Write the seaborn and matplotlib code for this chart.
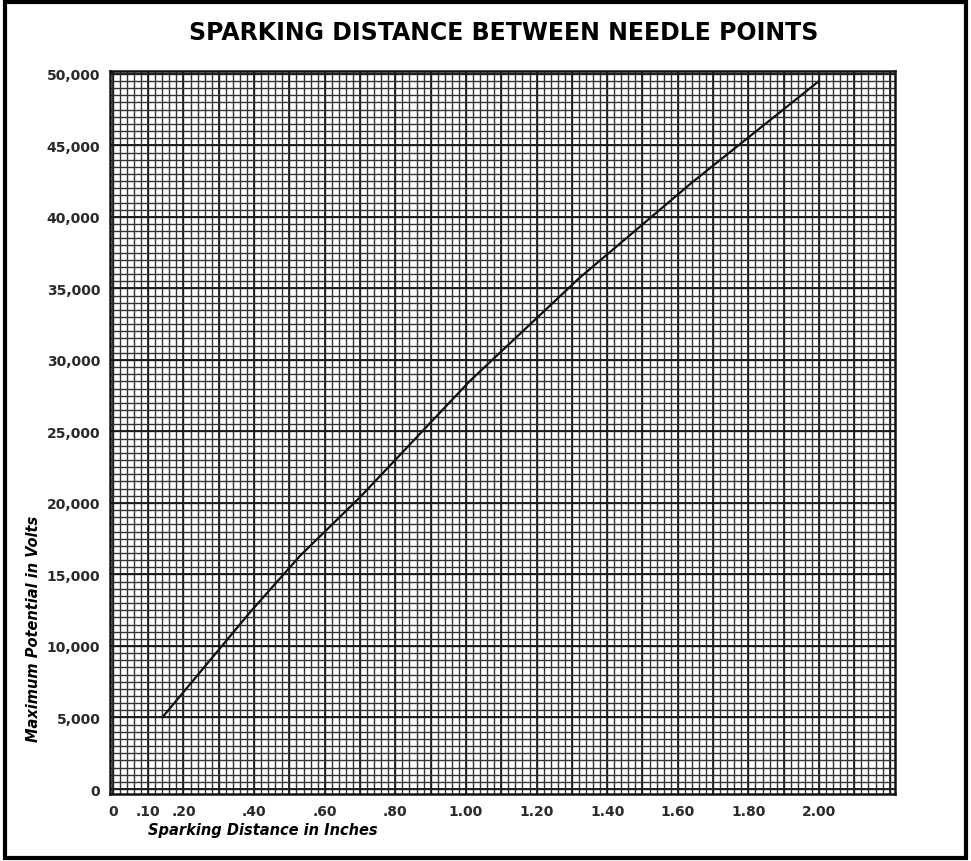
import numpy as np
import pandas as pd
import matplotlib
matplotlib.use("Agg")
import matplotlib.pyplot as plt
import seaborn as sns
from matplotlib.patches import Rectangle

# valores
distancia = [0.14, 0.39, 0.53, 0.70, 1.01, 1.32, 1.64, 2.00]
voltios = [5000, 12400, 16300, 20400, 28500, 35700, 42400, 49500]

x_ticks = [0, 0.10, 0.20, 0.40, 0.60, 0.80, 1.00, 1.20, 1.40, 1.60, 1.80, 2.00]
x_labels = ["0", ".10", ".20", ".40", ".60", ".80", "1.00", "1.20", "1.40", "1.60", "1.80", "2.00"]
y_ticks = list(range(0, 50001, 5000))
y_labels = ["0"] + [f"{v:,}" for v in y_ticks[1:]]

sns.set_style("white")
plt.rcParams['font.family'] = ['DejaVu Sans']

df = pd.DataFrame({"dist": distancia, "volts": voltios})

fig = plt.figure(figsize=(9.71, 8.62), dpi=100)
ax = fig.add_axes([0.1133, 0.0777, 0.8084, 0.8388])

# papel milimetrado
for xv in np.arange(0, 2.22, 0.02):
    ax.axvline(xv, color="#333333", lw=1.0, zorder=1)
for xv in np.arange(0, 2.22, 0.1):
    ax.axvline(xv, color="#1a1a1a", lw=1.25, zorder=1)
for yv in np.arange(0, 50001, 500):
    ax.axhline(yv, color="#333333", lw=1.0, zorder=1)
for yv in np.arange(0, 50001, 5000):
    ax.axhline(yv, color="#1a1a1a", lw=1.35, zorder=1)

sns.lineplot(data=df, x="dist", y="volts", ax=ax, color="#111111", lw=1.6, zorder=3)

ax.set_xlim(-0.008, 2.215)
ax.set_ylim(-350, 50200)
ax.set_xticks(x_ticks)
ax.set_xticklabels(x_labels)
ax.set_yticks(y_ticks)
ax.set_yticklabels(y_labels)
ax.tick_params(length=0, labelsize=10, pad=7, colors="#2a2a2a")
for lab in ax.get_xticklabels() + ax.get_yticklabels():
    lab.set_fontweight("bold")
ax.set_xlabel("")
ax.set_ylabel("")
for s in ax.spines.values():
    s.set_color("#111111")
    s.set_linewidth(1.8)

fig.text(0.519, 0.962, "SPARKING DISTANCE BETWEEN NEEDLE POINTS",
         ha="center", va="center", fontsize=17, fontweight="bold", color="black")
fig.text(0.152, 0.037, "Sparking Distance in Inches", ha="left", va="center",
         fontsize=10.5, fontweight="bold", style="italic", color="black")
fig.text(0.034, 0.271, "Maximum Potential in Volts", ha="center", va="center",
         rotation=90, fontsize=10.5, fontweight="bold", style="italic", color="black")

# marco exterior
fig.add_artist(Rectangle((0.005, 0.004), 0.99, 0.992, transform=fig.transFigure,
                         fill=False, lw=3, edgecolor="black"))

fig.savefig("out.png", dpi=100)
